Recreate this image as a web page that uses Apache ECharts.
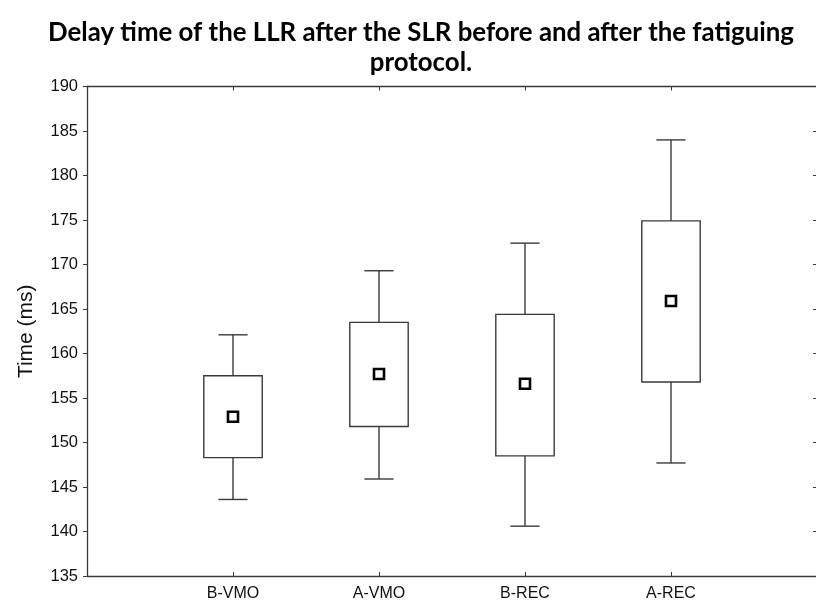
<!DOCTYPE html>
<html>
<head>
<meta charset="utf-8">
<script src="https://cdn.jsdelivr.net/npm/echarts@6/dist/echarts.min.js"></script>
<style>html,body{margin:0;padding:0;background:#fff;}#chart{width:816px;height:604px;}</style>
</head>
<body>
<div id="chart"></div>
<script>
// Data
const categories = ['B-VMO', 'A-VMO', 'B-REC', 'A-REC'];
const whiskerLow = [143.6, 145.9, 140.6, 147.7];
const boxLow = [148.3, 151.8, 148.5, 156.8];
const boxHigh = [157.5, 163.5, 164.4, 174.9];
const whiskerHigh = [162.1, 169.3, 172.4, 184.0];
const means = [152.9, 157.7, 156.6, 165.9];
const yTicks = { min: 135, max: 190, interval: 5 };
const titleText = 'Delay time of the LLR after the SLR before and after the fatiguing\nprotocol.';
const yName = 'Time (ms)';

// axis categories padded so categories sit at 1..4 of a 0..5 span
const axisCats = [''].concat(categories, ['']);
const boxData = categories.map((c, i) => [c, whiskerLow[i], boxLow[i], boxHigh[i], whiskerHigh[i]]);
const meanData = categories.map((c, i) => [c, means[i]]);

const lineColor = '#3a3a3a';
const chart = echarts.init(document.getElementById('chart'), null, { renderer: 'canvas' });

const option = {
  animation: false,
  backgroundColor: '#fff',
  title: {
    text: titleText,
    left: 416,
    textAlign: 'center',
    top: 13,
    textStyle: { fontFamily: 'Lato', fontWeight: 'bold', fontSize: 25.8, color: '#000', lineHeight: 30 }
  },
  grid: { left: 87, right: -1, top: 86.5, bottom: 28, containLabel: false, outerBoundsMode: 'none' },
  xAxis: [
    {
      type: 'category', data: axisCats, boundaryGap: false, position: 'bottom',
      axisLine: { lineStyle: { color: lineColor, width: 1.3 } },
      axisTick: { inside: true, length: 4, lineStyle: { color: lineColor } },
      axisLabel: { interval: 0, fontFamily: 'Liberation Sans', fontSize: 16, color: '#111', margin: 10 },
      splitLine: { show: false }
    },
    {
      type: 'category', data: axisCats, boundaryGap: false, position: 'top',
      axisLine: { lineStyle: { color: lineColor, width: 1.3 } },
      axisTick: { inside: true, length: 4, lineStyle: { color: lineColor } },
      axisLabel: { show: false },
      splitLine: { show: false }
    }
  ],
  yAxis: [
    {
      type: 'value', min: yTicks.min, max: yTicks.max, interval: yTicks.interval,
      name: yName, nameLocation: 'middle', nameGap: 50, nameRotate: 90,
      nameTextStyle: { fontFamily: 'Liberation Sans', fontSize: 21, color: '#111' },
      axisLine: { show: true, lineStyle: { color: lineColor, width: 1.3 } },
      axisTick: { show: true, inside: false, length: 4, lineStyle: { color: lineColor } },
      axisLabel: { fontFamily: 'Liberation Sans', fontSize: 16.5, color: '#111', margin: 9 },
      splitLine: { show: false }
    },
    {
      type: 'value', min: yTicks.min, max: yTicks.max, interval: yTicks.interval, position: 'right',
      axisLine: { show: false },
      axisTick: { show: true, inside: true, length: 4, lineStyle: { color: lineColor } },
      axisLabel: { show: false },
      splitLine: { show: false }
    }
  ],
  series: [
    {
      type: 'custom',
      xAxisIndex: 0, yAxisIndex: 0,
      data: boxData,
      encode: { x: 0, y: [1, 2, 3, 4] },
      renderItem: function (params, api) {
        const cat = api.value(0);
        const pLow = api.coord([cat, api.value(1)]);
        const pQ1 = api.coord([cat, api.value(2)]);
        const pQ3 = api.coord([cat, api.value(3)]);
        const pHigh = api.coord([cat, api.value(4)]);
        const band = api.size([1, 0])[0];
        const bw = band * 0.4;
        const cw = bw / 2;
        const x = pQ1[0];
        const style = { stroke: lineColor, lineWidth: 1.4, fill: null };
        return {
          type: 'group',
          children: [
            { type: 'rect', shape: { x: x - bw / 2, y: pQ3[1], width: bw, height: pQ1[1] - pQ3[1] }, style: { stroke: lineColor, lineWidth: 1.4, fill: '#fff' } },
            { type: 'line', shape: { x1: x, y1: pQ3[1], x2: x, y2: pHigh[1] }, style: style },
            { type: 'line', shape: { x1: x, y1: pQ1[1], x2: x, y2: pLow[1] }, style: style },
            { type: 'line', shape: { x1: x - cw / 2, y1: pHigh[1], x2: x + cw / 2, y2: pHigh[1] }, style: style },
            { type: 'line', shape: { x1: x - cw / 2, y1: pLow[1], x2: x + cw / 2, y2: pLow[1] }, style: style }
          ]
        };
      },
      z: 2
    },
    {
      type: 'scatter',
      xAxisIndex: 0, yAxisIndex: 0,
      data: meanData,
      symbol: 'rect',
      symbolSize: 10,
      itemStyle: { color: '#fff', borderColor: '#000', borderWidth: 2.6, opacity: 1 },
      z: 5
    }
  ]
};
chart.setOption(option);
</script>
</body>
</html>
